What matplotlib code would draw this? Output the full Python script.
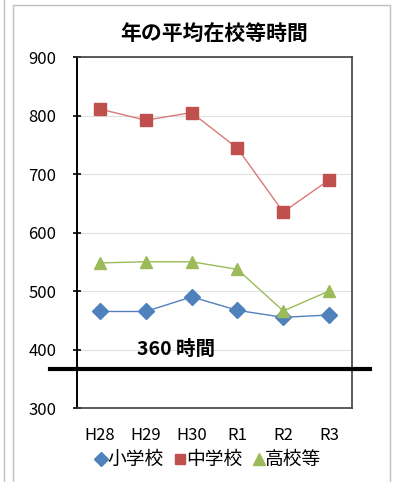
import matplotlib.pyplot as plt
from matplotlib.lines import Line2D

plt.rcParams['font.family'] = ['Noto Sans CJK JP', 'DejaVu Sans']

# 年度
years = ['H28', 'H29', 'H30', 'R1', 'R2', 'R3']
# 年の平均在校等時間
shogakko = [465, 465, 490, 467, 455, 459]
chugakko = [811, 792, 805, 744, 635, 690]
kokoto = [548, 550, 550, 537, 466, 500]
limit = 367

fig = plt.figure(figsize=(3.93, 4.82), dpi=100)
ax = fig.add_axes([0.196, 0.1535, 0.6997, 0.7282])

x = list(range(len(years)))
ax.plot(x, shogakko, color='#4F81BD', lw=1, marker='D', ms=8, label='小学校')
ax.plot(x, chugakko, color='#D97A78', lw=1, marker='s', ms=8,
        mfc='#C0504D', mec='#C0504D', label='中学校')
ax.plot(x, kokoto, color='#9BBB59', lw=1, marker='^', ms=9, label='高校等')

# 360時間の線
ax.plot([-1.09, 5.9], [limit, limit], color='black', lw=3, clip_on=False, zorder=5)
ax.text(0.8, 400, '360 時間', fontsize=14, fontweight='bold', va='center')

ax.set_xlim(-0.5, 5.5)
ax.set_ylim(300, 900)
ax.set_yticks(range(300, 1000, 100))
ax.set_xticks(x)
ax.set_xticklabels(years)
ax.tick_params(axis='x', length=0, pad=14, labelsize=12)
ax.tick_params(axis='y', direction='inout', length=6, width=1.2, labelsize=12, pad=12)
ax.grid(axis='y', color='#E0E0E0', lw=0.8)
ax.set_axisbelow(True)
for s in ['top', 'right', 'bottom']:
    ax.spines[s].set_color('#404040')
    ax.spines[s].set_linewidth(1.2)
ax.spines['left'].set_color('black')
ax.spines['left'].set_linewidth(1.4)

ax.set_title('年の平均在校等時間', fontsize=15, fontweight='bold', pad=12, x=0.5)

handles = [
    Line2D([], [], color='#4F81BD', marker='D', ls='none', ms=7),
    Line2D([], [], color='#C0504D', marker='s', ls='none', ms=7),
    Line2D([], [], color='#9BBB59', marker='^', ls='none', ms=8),
]
fig.legend(handles, ['小学校', '中学校', '高校等'], loc='center', bbox_to_anchor=(0.525, 0.046),
           ncol=3, frameon=False, fontsize=13.5, handletextpad=-0.2, columnspacing=0.4,
           handlelength=1.0)

# 外枠
fig.add_artist(Line2D([4 / 393, 4 / 393], [0, 1], color='#C0C0C0', lw=1))
fig.add_artist(Line2D([13 / 393, 13 / 393, 390 / 393, 390 / 393], [0, 477 / 482, 477 / 482, 0],
                      color='#C0C0C0', lw=1))

fig.savefig('out.png', dpi=100)
